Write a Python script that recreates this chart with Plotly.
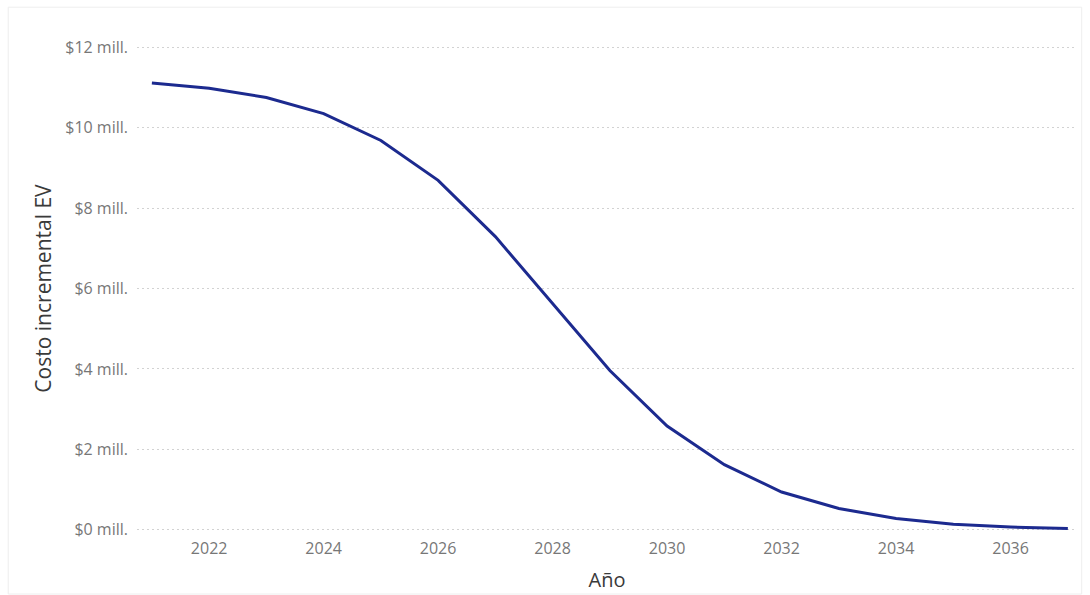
import plotly.graph_objects as go

years = list(range(2021, 2038))
costo_mill = [11.11, 10.98, 10.75, 10.35, 9.68, 8.69, 7.29, 5.62, 3.96,
              2.58, 1.62, 0.94, 0.53, 0.28, 0.14, 0.07, 0.03]
y_tickvals = [0, 2, 4, 6, 8, 10, 12]
y_ticktext = ["$0 mill.", "$2 mill.", "$4 mill.", "$6 mill.", "$8 mill.", "$10 mill.", "$12 mill."]
x_tickvals = [2022, 2024, 2026, 2028, 2030, 2032, 2034, 2036]

FONT = "Open Sans"

fig = go.Figure()
fig.add_trace(go.Scatter(
    x=years, y=costo_mill, mode="lines",
    line=dict(color="#1c2a8f", width=3),
    cliponaxis=False, showlegend=False,
))

fig.update_layout(
    width=1090, height=595,
    margin=dict(l=137, r=13, t=46, b=64, autoexpand=False),
    paper_bgcolor="white", plot_bgcolor="white",
    font=dict(family=FONT, color="#777777", size=16),
    xaxis=dict(
        range=[2020.74, 2037.16],
        tickvals=x_tickvals,
        ticks="", showgrid=False, zeroline=False, showline=False,
        tickfont=dict(size=16, color="#777777"),
        ticklabelstandoff=6,
        title=dict(text="Año", font=dict(size=20, color="#3a3a3a"), standoff=14),
        automargin=False,
    ),
    yaxis=dict(
        range=[-0.03, 12.03],
        tickvals=y_tickvals, ticktext=y_ticktext,
        ticks="", showgrid=True, gridcolor="#d2d2d2", griddash="2px,3px", gridwidth=1,
        zeroline=False, showline=False,
        tickfont=dict(size=16, color="#777777"),
        ticklabelstandoff=8,
        title=dict(text="Costo incremental EV", font=dict(size=21, color="#3a3a3a"), standoff=7),
        automargin=False,
    ),
    shapes=[dict(type="rect", xref="paper", yref="paper",
                 x0=-0.137, x1=1.005, y0=-0.13, y1=1.08,
                 line=dict(color="#eeeeee", width=1), layer="below")],
)

fig.write_html("out.html", config={"displayModeBar": False},
               post_script="document.body.style.margin='0';window.dispatchEvent(new Event('resize'));")
